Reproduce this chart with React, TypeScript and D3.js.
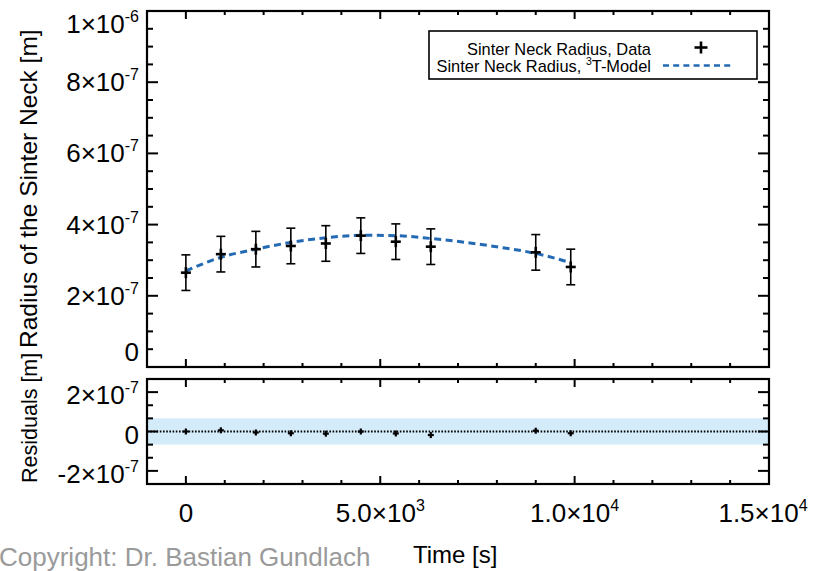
import React from "react";
import * as d3 from "d3";

// ---- data ----
const timeS = [0, 900, 1800, 2700, 3600, 4500, 5400, 6300, 9000, 9900];
const radiusE7 = [2.65, 3.17, 3.31, 3.40, 3.47, 3.69, 3.52, 3.38, 3.22, 2.81];
const errE7 = [0.5, 0.5, 0.5, 0.5, 0.5, 0.5, 0.5, 0.5, 0.5, 0.5];
const residualE7 = [0.0, 0.06, -0.05, -0.09, -0.11, 0.0, -0.1, -0.18, 0.04, -0.09];
const modelT = [0, 900, 1800, 2700, 3600, 4500, 5400, 6300, 7200, 8100, 9000, 9900];
const modelE7 = [2.7, 3.08, 3.31, 3.5, 3.63, 3.7, 3.69, 3.61, 3.5, 3.36, 3.19, 2.93];
const bandE7 = 0.667;

const xTickLabels = [
  { v: 0, base: "0", sup: "" },
  { v: 5000, base: "5.0×10", sup: "3" },
  { v: 10000, base: "1.0×10", sup: "4" },
  { v: 15000, base: "1.5×10", sup: "4" },
];
const yMainLabels = [
  { v: 0, base: "0", sup: "" },
  { v: 2e-7, base: "2×10", sup: "-7" },
  { v: 4e-7, base: "4×10", sup: "-7" },
  { v: 6e-7, base: "6×10", sup: "-7" },
  { v: 8e-7, base: "8×10", sup: "-7" },
  { v: 1e-6, base: "1×10", sup: "-6" },
];
const yResLabels = [
  { v: -2e-7, base: "-2×10", sup: "-7" },
  { v: 0, base: "0", sup: "" },
  { v: 2e-7, base: "2×10", sup: "-7" },
];

const FONT = "'Liberation Sans', Arial, Helvetica, sans-serif";
const W = 815, H = 571;
const L = 147, R = 769;
const mainTop = 11, mainBottom = 367;
const resTop = 379, resBottom = 484;

const x = d3.scaleLinear().domain([-1000, 15000]).range([L, R]);
const yMain = d3.scaleLinear().domain([0, 1e-6]).range([mainBottom, mainTop]);
const yRes = d3.scaleLinear().domain([-8e-7 / 3, 8e-7 / 3]).range([resBottom, resTop]);

const xMinor = d3.range(0, 15000, 1000);
const xMajor = [0, 5000, 10000];
const yMainTicks = d3.range(1, 20).map((i) => i * 5e-8);
const yResTicks = d3.range(-3, 4).map((i) => (i * 2e-7) / 3);

function Frame({ top, bottom, yTicks, yScale, isMajorY, xMaj, xMin, yMajLen, yMinLen }: any) {
  const lines: any[] = [];
  xMinor.forEach((v) => {
    const maj = xMajor.includes(v);
    const len = maj ? xMaj : xMin;
    const px = x(v);
    lines.push(<line key={"xb" + v} x1={px} x2={px} y1={bottom} y2={bottom - len} />);
    lines.push(<line key={"xt" + v} x1={px} x2={px} y1={top} y2={top + len} />);
  });
  yTicks.forEach((v: number, i: number) => {
    const maj = isMajorY(v);
    const len = maj ? yMajLen : yMinLen;
    const py = yScale(v);
    lines.push(<line key={"yl" + i} x1={L} x2={L + len} y1={py} y2={py} />);
    lines.push(<line key={"yr" + i} x1={R} x2={R - len} y1={py} y2={py} />);
  });
  return (
    <g stroke="#000" strokeWidth={2}>
      {lines}
      <rect x={L} y={top} width={R - L} height={bottom - top} fill="none" strokeWidth={2.2} />
    </g>
  );
}

function Label({ x: lx, y: ly, base, sup, anchor, size, supSize }: any) {
  return (
    <text x={lx} y={ly} textAnchor={anchor} fontSize={size} fontFamily={FONT} fill="#000">
      {base}
      {sup ? (
        <tspan fontSize={supSize} dy={-size * 0.42}>
          {sup}
        </tspan>
      ) : null}
    </text>
  );
}

export default function App() {
  const modelLine = d3
    .line<number>()
    .x((_, i) => x(modelT[i]))
    .y((d) => yMain(d * 1e-7))
    .curve(d3.curveMonotoneX)(modelE7) as string;

  const plus = (cx: number, cy: number, hw: number, hh: number, sw: number, key: string) => (
    <g key={key} stroke="#000" strokeWidth={sw}>
      <line x1={cx - hw} x2={cx + hw} y1={cy} y2={cy} />
      <line x1={cx} x2={cx} y1={cy - hh} y2={cy + hh} />
    </g>
  );

  const yMainLabelY = (v: number) => {
    const py = yMain(v) + 9;
    return Math.min(Math.max(py, mainTop + 22), mainBottom - 6);
  };

  const TS = 26, SS = 16;

  return (
    <svg width={W} height={H} style={{ position: "fixed", left: 0, top: 0, background: "#fff" }}>
      <rect x={0} y={0} width={W} height={H} fill="#fff" />

      {/* ---------- main panel ---------- */}
      <g>
        <path d={modelLine} fill="none" stroke="#2369b3" strokeWidth={3} strokeDasharray="7,4.5" />
        {timeS.map((t, i) => {
          const px = x(t);
          const y1 = yMain((radiusE7[i] + errE7[i]) * 1e-7);
          const y2 = yMain((radiusE7[i] - errE7[i]) * 1e-7);
          return (
            <g key={"eb" + i} stroke="#000" strokeWidth={1.6}>
              <line x1={px} x2={px} y1={y1} y2={y2} />
              <line x1={px - 4.5} x2={px + 4.5} y1={y1} y2={y1} />
              <line x1={px - 4.5} x2={px + 4.5} y1={y2} y2={y2} />
            </g>
          );
        })}
        {timeS.map((t, i) => plus(x(t), yMain(radiusE7[i] * 1e-7), 5, 5.5, 2.6, "p" + i))}
        <Frame
          top={mainTop}
          bottom={mainBottom}
          yTicks={yMainTicks}
          yScale={yMain}
          isMajorY={(v: number) => Math.abs(v / 2e-7 - Math.round(v / 2e-7)) < 1e-6}
          xMaj={8}
          xMin={4}
          yMajLen={11}
          yMinLen={6}
        />
        {yMainLabels.map((l) => (
          <Label key={"ym" + l.v} x={139} y={yMainLabelY(l.v)} base={l.base} sup={l.sup} anchor="end" size={TS} supSize={SS} />
        ))}
      </g>

      {/* legend */}
      <g>
        <rect x={429} y={31} width={328} height={48} fill="#fff" stroke="#000" strokeWidth={1.6} />
        <text x={651} y={55} textAnchor="end" fontSize={16.4} fontFamily={FONT} fill="#000">
          Sinter Neck Radius, Data
        </text>
        <text x={651} y={72} textAnchor="end" fontSize={16.4} fontFamily={FONT} fill="#000">
          Sinter Neck Radius,{" "}
          <tspan fontSize={10.5} dy={-7}>
            3
          </tspan>
          <tspan dy={7}>T-Model</tspan>
        </text>
        {plus(701, 47.5, 6.5, 6, 2.6, "legplus")}
        <line x1={663} x2={734} y1={65.5} y2={65.5} stroke="#2369b3" strokeWidth={2.6} strokeDasharray="6,4.2" />
      </g>

      {/* ---------- residual panel ---------- */}
      <g>
        <rect
          x={L}
          y={yRes(bandE7 * 1e-7)}
          width={R - L}
          height={yRes(-bandE7 * 1e-7) - yRes(bandE7 * 1e-7)}
          fill="#d4ecfa"
        />
        <line x1={L} x2={R} y1={yRes(0)} y2={yRes(0)} stroke="#000" strokeWidth={2} strokeDasharray="1.6,1.6" />
        {timeS.map((t, i) => plus(x(t), yRes(residualE7[i] * 1e-7), 3, 3, 2.2, "r" + i))}
        <Frame
          top={resTop}
          bottom={resBottom}
          yTicks={yResTicks}
          yScale={yRes}
          isMajorY={(v: number) => Math.abs(v) < 1e-12 || Math.abs(Math.abs(v) - 2e-7) < 1e-12}
          xMaj={8}
          xMin={4}
          yMajLen={11}
          yMinLen={6}
        />
        {yResLabels.map((l) => (
          <Label key={"yr" + l.v} x={139} y={yRes(l.v) + 12} base={l.base} sup={l.sup} anchor="end" size={TS} supSize={SS} />
        ))}
      </g>

      {/* x labels */}
      {xTickLabels.map((l) => (
        <Label key={"x" + l.v} x={x(l.v) - (l.v === 15000 ? 6 : 0)} y={522} base={l.base} sup={l.sup} anchor="middle" size={TS} supSize={SS} />
      ))}

      {/* axis titles */}
      <text transform="translate(37,348) rotate(-90)" fontSize={24.5} fontFamily={FONT} fill="#000">
        Radius of the Sinter Neck [m]
      </text>
      <text transform="translate(37,483) rotate(-90)" fontSize={21.5} fontFamily={FONT} fill="#000">
        Residuals [m]
      </text>
      <text x={413} y={563} fontSize={24} fontFamily={FONT} fill="#000">
        Time [s]
      </text>
      <text x={-1} y={566} fontSize={26} fontFamily={FONT} fill="#9a9a9a">
        Copyright: Dr. Bastian Gundlach
      </text>
    </svg>
  );
}
